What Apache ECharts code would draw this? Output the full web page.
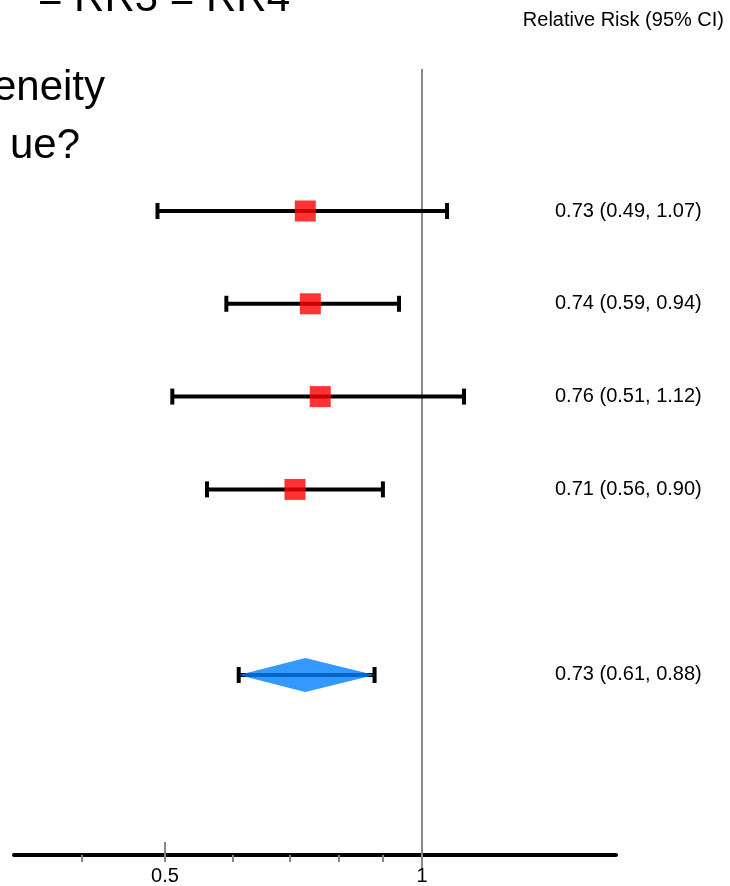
<!DOCTYPE html>
<html>
<head>
<meta charset="utf-8">
<script src="https://cdn.jsdelivr.net/npm/echarts@6/dist/echarts.min.js"></script>
<style>
  html, body { margin: 0; padding: 0; background: #fff; }
  #ChartMain { width: 730px; height: 886px; }
</style>
</head>
<body>
<div id="ChartMain"></div>
<script>
// study rows (relative risk, 95% CI)
var estimates = [0.73, 0.74, 0.76, 0.71];
var lowers = [0.49, 0.59, 0.51, 0.56];
var uppers = [1.07, 0.94, 1.12, 0.90];
var rows = [1, 2, 3, 4];
// pooled estimate
var pooledEst = 0.73, pooledLow = 0.61, pooledHigh = 0.88, pooledRow = 6;
// x axis ticks
var tickValues = [0.4, 0.5, 0.6, 0.7, 0.8, 0.9, 1];
var majorTicks = [0.5, 1];
var majorLabels = ['0.5', '1'];

var FONT = 'Arial, "Liberation Sans", sans-serif';

function lg(v) { return Math.log(v) / Math.log(2); }

function GenerateChart() {
    var chart = echarts.init(document.getElementById('ChartMain'));

    var forestData = [];
    for (var i = 0; i < estimates.length; i++) {
        forestData.push([estimates[i], lowers[i], uppers[i], rows[i], 0]);
    }
    forestData.push([pooledEst, pooledLow, pooledHigh, pooledRow, 1]);

    var option = {
        animation: false,
        backgroundColor: '#fff',
        grid: {left: 14, right: 114, top: 118.2, bottom: 31},
        xAxis: [{
            type: 'value',
            min: lg(1 / 3) - 0.0025,
            max: 0.755,
            position: 'bottom',
            splitLine: {show: false},
            axisLine: {show: true, onZero: false, lineStyle: {color: '#000', width: 4}},
            axisTick: {
                show: true, inside: false, length: 7,
                customValues: tickValues.map(lg),
                lineStyle: {color: '#888', width: 2}
            },
            axisLabel: {
                show: true, margin: 11,
                customValues: majorTicks.map(lg),
                fontSize: 20, fontFamily: FONT, color: '#000',
                formatter: function (v) {
                    for (var k = 0; k < majorTicks.length; k++) {
                        if (Math.abs(lg(majorTicks[k]) - v) < 1e-6) return majorLabels[k];
                    }
                    return '';
                }
            }
        }, {
            type: 'value',
            min: lg(1 / 3) - 0.0025,
            max: 0.755,
            position: 'bottom',
            splitLine: {show: false},
            axisLine: {show: false, onZero: false},
            axisTick: {
                show: true, inside: true, length: 13,
                customValues: majorTicks.map(lg),
                lineStyle: {color: '#888', width: 2}
            },
            axisLabel: {show: false}
        }],
        yAxis: {
            type: 'value', inverse: true, min: 0, max: 7.94,
            show: false
        },
        graphic: [
            {type: 'text', x: 290, y: -1, style: {text: '= RR3 = RR4', font: '42px ' + FONT, fill: '#000', align: 'right', verticalAlign: 'middle'}},
            {type: 'text', x: 105, y: 88, style: {text: 'eneity', font: '42px ' + FONT, fill: '#000', align: 'right', verticalAlign: 'middle'}},
            {type: 'text', x: 80, y: 146, style: {text: 'ue?', font: '42px ' + FONT, fill: '#000', align: 'right', verticalAlign: 'middle'}},
            {type: 'text', x: 724, y: 20, style: {text: 'Relative Risk (95% CI)', font: '20px ' + FONT, fill: '#000', align: 'right', verticalAlign: 'middle'}}
        ],
        series: [{
            type: 'line',
            silent: true,
            clip: false,
            symbol: 'none',
            z: 1,
            lineStyle: {color: '#888', width: 2},
            data: [[lg(1), -0.53], [lg(1), 8.08]]
        }, {
            type: 'custom',
            z: 3,
            data: forestData,
            renderItem: function (params, api) {
                var est = api.value(0), lo = api.value(1), hi = api.value(2);
                var row = api.value(3), kind = api.value(4);
                var pE = api.coord([lg(est), row]);
                var pL = api.coord([lg(lo), row]);
                var pH = api.coord([lg(hi), row]);
                var y = pE[1];
                var children = [
                    {type: 'line', shape: {x1: pL[0], y1: y, x2: pH[0], y2: y}, style: {stroke: '#000', lineWidth: 4}},
                    {type: 'line', shape: {x1: pL[0], y1: y - 8, x2: pL[0], y2: y + 8}, style: {stroke: '#000', lineWidth: 4}},
                    {type: 'line', shape: {x1: pH[0], y1: y - 8, x2: pH[0], y2: y + 8}, style: {stroke: '#000', lineWidth: 4}}
                ];
                if (kind === 0) {
                    children.push({type: 'rect', shape: {x: pE[0] - 10.5, y: y - 10.5, width: 21, height: 21}, style: {fill: 'rgba(255,0,0,0.8)'}});
                } else {
                    children.push({type: 'polygon', shape: {points: [[pL[0], y], [pE[0], y - 17], [pH[0], y], [pE[0], y + 17]]}, style: {fill: 'rgba(0,128,255,0.8)'}});
                }
                children.push({
                    type: 'text', x: 555, y: y,
                    style: {
                        text: est.toFixed(2) + ' (' + lo.toFixed(2) + ', ' + hi.toFixed(2) + ')',
                        font: '20px ' + FONT, fill: '#000', align: 'left', verticalAlign: 'middle'
                    }
                });
                return {type: 'group', children: children};
            }
        }]
    };
    chart.setOption(option);
}

GenerateChart();
</script>
</body>
</html>
